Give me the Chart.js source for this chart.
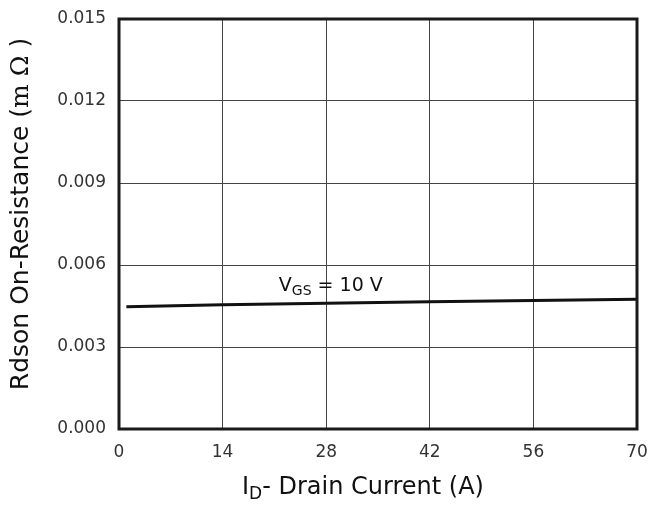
<!DOCTYPE html>
<html>
<head>
  <title>Rdson vs Drain Current</title>
  <script src="https://cdn.jsdelivr.net/npm/chart.js"></script>
  <style>
    html, body {
      margin: 0;
      padding: 0;
      background-color: #FFFFFF;
    }

    .chart-container {
      position: relative;
      width: 649px;
      height: 523px;
    }
  </style>
</head>
<body>
  <div class="chart-container">
    <canvas id="rdsonChart"></canvas>
  </div>

  <script>
    // values
    const drainCurrent = [1, 14, 28, 42, 56, 70];
    const rdson = [0.00447, 0.00455, 0.0046, 0.00466, 0.0047, 0.00475];

    const xTicks = [0, 14, 28, 42, 56, 70];
    const yTicks = [0, 0.003, 0.006, 0.009, 0.012, 0.015];

    // where the V_GS label sits (data units)
    const labelX = 21.6;
    const labelY = 0.00506;

    const sansFont = '"DejaVu Sans", sans-serif';
    const serifFont = '"DejaVu Serif", "Liberation Serif", serif';

    // draws the frame, the curve label and the two axis titles (they need subscripts)
    const extrasPlugin = {
      id: 'extras',
      afterDraw: (chart) => {
        const ctx = chart.ctx;
        const area = chart.chartArea;
        const x = chart.scales.x;
        const y = chart.scales.y;

        ctx.save();
        ctx.strokeStyle = '#1a1a1a';
        ctx.lineWidth = 3;
        ctx.strokeRect(area.left, area.top, area.right - area.left, area.bottom - area.top);

        // V_GS = 10 V
        ctx.fillStyle = '#111111';
        ctx.textBaseline = 'alphabetic';
        ctx.textAlign = 'left';
        let px = x.getPixelForValue(labelX);
        const py = y.getPixelForValue(labelY);
        ctx.font = '19px ' + sansFont;
        ctx.fillText('V', px, py);
        px += ctx.measureText('V').width;
        ctx.font = '14px ' + sansFont;
        ctx.fillText('GS', px, py + 4);
        px += ctx.measureText('GS').width;
        ctx.font = '19px ' + sansFont;
        ctx.fillText(' = 10 V', px, py);

        // x title: I_D- Drain Current (A)
        const xTitleSize = 24;
        ctx.font = xTitleSize + 'px ' + sansFont;
        const partA = ctx.measureText('I').width;
        ctx.font = '17px ' + sansFont;
        const partB = ctx.measureText('D').width;
        ctx.font = xTitleSize + 'px ' + sansFont;
        const rest = '- Drain Current (A)';
        const partC = ctx.measureText(rest).width;
        let tx = 363 - (partA + partB + partC) / 2;
        const ty = 494;
        ctx.fillText('I', tx, ty);
        tx += partA;
        ctx.font = '17px ' + sansFont;
        ctx.fillText('D', tx, ty + 5);
        tx += partB;
        ctx.font = xTitleSize + 'px ' + sansFont;
        ctx.fillText(rest, tx, ty);

        // y title, rotated
        const yTitleSize = 25;
        ctx.translate(28, 214);
        ctx.rotate(-Math.PI / 2);
        const pieces = [
          ['Rdson On-Resistance (', sansFont],
          ['m \u03A9', serifFont],
          [' )', sansFont],
        ];
        let total = 0;
        pieces.forEach((p) => {
          ctx.font = yTitleSize + 'px ' + p[1];
          total += ctx.measureText(p[0]).width;
        });
        let ry = -total / 2;
        pieces.forEach((p) => {
          ctx.font = yTitleSize + 'px ' + p[1];
          ctx.fillText(p[0], ry, 0);
          ry += ctx.measureText(p[0]).width;
        });
        ctx.restore();
      },
    };

    const ctx = document.getElementById('rdsonChart').getContext('2d');
    const chart = new Chart(ctx, {
      type: 'scatter',
      data: {
        datasets: [
          {
            label: 'VGS = 10 V',
            data: drainCurrent.map((v, i) => ({ x: v, y: rdson[i] })),
            showLine: true,
            borderColor: '#111111',
            borderWidth: 3,
            pointRadius: 0,
            fill: false,
          },
        ],
      },
      options: {
        responsive: true,
        maintainAspectRatio: false,
        animation: false,
        layout: {
          padding: 0,
        },
        plugins: {
          legend: { display: false },
          tooltip: { enabled: false },
        },
        scales: {
          x: {
            type: 'linear',
            min: 0,
            max: 70,
            afterBuildTicks: (scale) => {
              scale.ticks = xTicks.map((v) => ({ value: v }));
            },
            afterFit: (scale) => {
              scale.height = 94;
              scale.paddingLeft = 0;
              scale.paddingRight = 12;
            },
            ticks: {
              color: '#333333',
              font: { family: sansFont, size: 17 },
              padding: 13,
            },
            grid: {
              color: '#444444',
              lineWidth: 1,
              drawTicks: false,
            },
            border: { display: false },
          },
          y: {
            min: 0,
            max: 0.015,
            afterBuildTicks: (scale) => {
              scale.ticks = yTicks.map((v) => ({ value: v }));
            },
            afterFit: (scale) => {
              scale.width = 119;
              scale.paddingTop = 19;
              scale.paddingBottom = 0;
            },
            ticks: {
              color: '#333333',
              font: { family: sansFont, size: 17 },
              padding: 13,
              callback: (value) => value.toFixed(3),
            },
            grid: {
              color: '#444444',
              lineWidth: 1,
              drawTicks: false,
            },
            border: { display: false },
          },
        },
      },
      plugins: [extrasPlugin],
    });
  </script>
</body>
</html>
